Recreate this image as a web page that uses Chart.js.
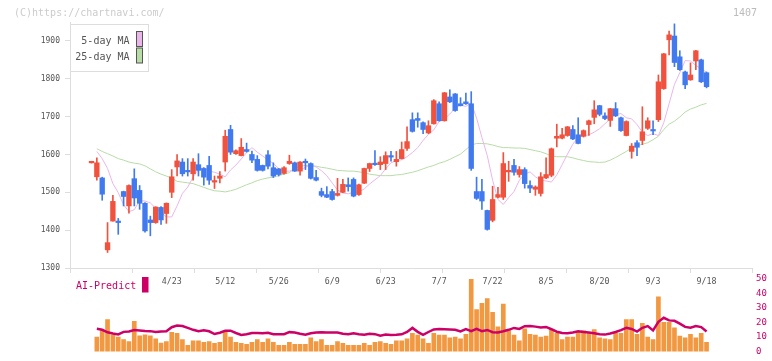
<!DOCTYPE html>
<html>
<head>
<meta charset="utf-8">
<script src="https://cdn.jsdelivr.net/npm/chart.js@4.4.1/dist/chart.umd.min.js"></script>
<style>
  html,body{margin:0;padding:0;background:#fff;}
  #wrap{position:relative;width:772px;height:361px;}
  #wrap canvas{position:absolute;left:0;top:0;}
</style>
</head>
<body>
<div id="wrap">
  <canvas id="cPrice" width="772" height="361"></canvas>
  <canvas id="cVol" width="772" height="361"></canvas>
</div>
<script>

//-------- data (2025, daily) --------
var dates = ["4/2","4/3","4/4","4/7","4/8","4/9","4/10","4/11","4/14","4/15","4/16","4/17","4/18","4/21","4/22","4/23","4/24","4/25","4/28","4/30",
  "5/1","5/2","5/7","5/8","5/9","5/12","5/13","5/14","5/15","5/16","5/19","5/20","5/21","5/22","5/23","5/26","5/27","5/28","5/29","5/30",
  "6/2","6/3","6/4","6/5","6/6","6/9","6/10","6/11","6/12","6/13","6/16","6/17","6/18","6/19","6/20","6/23","6/24","6/25","6/26","6/27","6/30",
  "7/1","7/2","7/3","7/4","7/7","7/8","7/9","7/10","7/11","7/14","7/15","7/16","7/17","7/18","7/22","7/23","7/24","7/25","7/28","7/29","7/30","7/31",
  "8/1","8/4","8/5","8/6","8/7","8/8","8/12","8/13","8/14","8/15","8/18","8/19","8/20","8/21","8/22","8/25","8/26","8/27","8/28","8/29",
  "9/1","9/2","9/3","9/4","9/5","9/8","9/9","9/10","9/11","9/12","9/16","9/17","9/18"];

var tickDates = ["4/23","5/12","5/26","6/9","6/23","7/7","7/22","8/5","8/20","9/3","9/18"];
var priceTicks = [1300,1400,1500,1600,1700,1800,1900];
var volTicks = [0,10,20,30,40,50];

var opens = [1578,1541,1538,1348,1424,1423,1502,1464,1536,1505,
  1471,1427,1420,1460,1444,1500,1567,1580,1557,1549,
  1573,1563,1571,1527,1537,1580,1666,1602,1597,1613,
  1600,1587,1571,1599,1565,1562,1550,1576,1578,1556,
  1582,1576,1539,1502,1494,1502,1492,1500,1520,1534,
  1494,1524,1563,1576,1573,1576,1597,1581,1589,1616,
  1692,1695,1684,1657,1681,1734,1689,1752,1760,1734,
  1739,1734,1502,1502,1452,1426,1487,1487,1554,1571,
  1547,1560,1518,1508,1497,1538,1545,1643,1643,1650,
  1666,1652,1648,1679,1698,1729,1702,1690,1721,1697,
  1650,1608,1631,1637,1669,1666,1692,1774,1903,1913,
  1858,1818,1797,1847,1850,1816];

var highs = [1582,1591,1540,1420,1492,1431,1503,1520,1562,1518,
  1473,1437,1462,1462,1472,1560,1600,1589,1589,1589,
  1602,1565,1595,1543,1555,1664,1677,1612,1642,1630,
  1609,1597,1572,1610,1578,1563,1568,1598,1580,1581,
  1588,1578,1558,1511,1515,1508,1537,1534,1538,1538,
  1522,1564,1577,1610,1594,1607,1608,1608,1633,1673,
  1710,1710,1686,1689,1745,1739,1764,1771,1761,1750,
  1762,1766,1540,1534,1453,1516,1513,1605,1582,1587,
  1568,1565,1530,1517,1552,1591,1617,1680,1669,1674,
  1676,1697,1665,1691,1742,1730,1710,1722,1737,1699,
  1689,1629,1637,1726,1697,1689,1810,1867,1926,1945,
  1874,1820,1842,1875,1852,1818];

var lows = [1577,1532,1479,1341,1424,1389,1464,1445,1464,1455,
  1395,1385,1418,1415,1418,1486,1543,1543,1543,1532,
  1543,1519,1521,1510,1525,1556,1600,1600,1596,1606,
  1578,1556,1556,1562,1539,1543,1548,1574,1555,1545,
  1560,1535,1530,1488,1486,1479,1490,1499,1503,1488,
  1492,1523,1555,1571,1560,1560,1582,1569,1588,1611,
  1659,1672,1655,1655,1680,1688,1688,1737,1714,1728,
  1732,1558,1481,1455,1400,1422,1485,1481,1529,1545,
  1540,1511,1499,1492,1490,1536,1541,1620,1641,1648,
  1639,1628,1646,1650,1681,1702,1692,1674,1700,1661,
  1649,1590,1597,1626,1666,1652,1687,1772,1863,1832,
  1822,1774,1796,1824,1790,1776];

var closes = [1581,1578,1495,1367,1476,1420,1489,1518,1485,1471,
  1398,1420,1461,1427,1471,1541,1583,1549,1554,1580,
  1558,1540,1532,1531,1543,1648,1606,1610,1619,1608,
  1585,1558,1558,1569,1543,1547,1565,1582,1556,1580,
  1578,1537,1532,1492,1487,1481,1497,1521,1515,1490,
  1520,1563,1576,1573,1580,1597,1593,1587,1613,1634,
  1661,1690,1666,1676,1742,1689,1763,1739,1716,1729,
  1734,1563,1484,1477,1402,1481,1494,1576,1558,1553,
  1560,1523,1511,1514,1541,1547,1615,1648,1652,1673,
  1641,1629,1663,1689,1718,1706,1695,1721,1702,1663,
  1687,1622,1619,1660,1689,1662,1792,1866,1916,1843,
  1824,1784,1810,1874,1792,1779];

// moving averages as drawn on the chart (one slot to the right of the candle)
var ma5 = [null,1608,1589,1563,1523,1499,1467,1449,1454,1478,
  1477,1472,1458,1447,1435,1435,1464,1497,1514,1540,
  1561,1565,1556,1553,1548,1541,1559,1572,1588,1605,
  1618,1606,1596,1586,1576,1563,1555,1556,1561,1559,
  1566,1572,1567,1557,1544,1525,1506,1498,1496,1500,
  1501,1509,1522,1533,1544,1562,1578,1584,1586,1594,
  1605,1618,1637,1653,1665,1687,1693,1707,1722,1730,
  1727,1736,1696,1645,1597,1532,1481,1468,1486,1502,
  1532,1548,1554,1541,1532,1530,1527,1546,1573,1601,
  1627,1646,1649,1652,1659,1668,1681,1694,1706,1708,
  1697,1694,1679,1659,1650,1655,1650,1684,1734,1785,
  1816,1848,1847,1835,1827,1817];

var ma25 = [null,1615,1608,1602,1596,1589,1585,1580,1577,1575,
  1570,1562,1554,1548,1543,1538,1529,1527,1525,1523,
  1518,1513,1508,1504,1503,1501,1504,1508,1514,1520,
  1525,1531,1535,1538,1540,1544,1548,1552,1563,1569,
  1571,1571,1569,1566,1564,1561,1558,1557,1556,1556,
  1554,1552,1548,1546,1544,1544,1544,1546,1547,1550,
  1553,1557,1562,1567,1571,1577,1581,1587,1594,1601,
  1613,1625,1629,1629,1628,1625,1621,1618,1618,1617,
  1617,1616,1613,1610,1607,1602,1596,1594,1594,1594,
  1591,1587,1584,1581,1580,1579,1580,1585,1592,1600,
  1608,1617,1623,1627,1631,1639,1648,1666,1680,1688,
  1699,1712,1720,1725,1731,1735];

var volume = [null,10.0,14.5,22.0,11.5,10.0,8.2,6.9,20.8,10.9,
  11.5,10.9,8.8,5.9,6.9,13.2,12.6,8.2,4.4,7.5,
  7.5,6.3,6.9,5.7,6.3,13.8,10.0,6.3,5.7,5.0,
  6.3,8.2,6.3,8.8,6.3,4.4,4.4,6.3,5.0,5.0,
  5.0,9.4,6.9,8.2,4.4,4.4,6.9,5.7,4.4,4.4,
  4.4,5.7,4.4,6.3,6.9,5.7,5.0,7.5,7.5,8.8,
  12.6,11.3,8.8,5.7,12.6,11.3,11.3,9.4,10.0,8.8,
  11.9,50.0,28.9,33.3,36.5,27.0,17.0,32.7,14.5,11.3,
  7.5,15.7,11.9,11.3,10.0,10.7,15.1,12.6,8.2,10.0,
  10.0,13.8,14.5,12.6,15.1,9.4,8.8,8.2,12.6,12.6,
  22.0,22.0,11.9,19.5,10.0,8.2,37.7,20.1,20.1,16.4,
  10.7,9.4,11.9,9.4,12.6,6.3];

var aiPredict = [null,15.7,15.0,13.3,12.5,11.8,13.6,13.9,14.8,14.6,
  14.2,14.1,13.5,13.9,14.0,16.8,17.9,17.6,16.3,15.0,
  14.0,14.7,14.0,12.1,13.0,14.3,14.4,12.8,11.5,11.9,
  12.8,12.8,12.6,12.9,11.9,11.9,12.0,13.4,13.1,12.3,
  11.6,12.6,13.1,13.3,13.2,13.1,13.2,12.3,12.0,12.6,
  12.0,11.6,12.3,12.0,10.9,11.7,11.5,11.6,11.9,13.5,
  16.3,13.6,11.5,13.5,15.3,15.6,15.4,15.2,15.0,13.9,
  15.5,14.1,15.7,14.1,14.9,13.4,13.2,14.0,15.0,16.3,
  15.6,17.5,17.6,17.2,16.6,17.0,15.4,13.7,12.8,12.6,
  13.1,14.0,13.5,13.1,12.6,12.0,11.7,12.5,13.5,14.8,
  16.4,15.6,13.8,16.4,17.6,14.6,20.5,23.3,21.5,21.2,
  19.3,17.0,16.5,17.6,16.9,13.9];

//-------- styles --------
var MONO = '"DejaVu Sans Mono", "Liberation Mono", monospace';
var RED = 'rgb(240,82,62)';
var BLUE = 'rgb(64,122,238)';
var PINK = 'rgb(234,182,234)';
var GREEN = 'rgb(184,220,166)';
var ORANGE = 'rgb(242,152,64)';
var MAGENTA = '#cc0066';
var AXIS = '#dddddd';
var X_MIN = -4.02, X_MAX = 123.5;

function points(arr){
  return arr.map(function(v,i){ return {x:i, y:v}; });
}

var wickData = dates.map(function(d,i){ return {x:i, y:[lows[i], highs[i]]}; });
var bodyData = dates.map(function(d,i){
  return {x:i, y:[Math.min(opens[i],closes[i]), Math.max(opens[i],closes[i])]};
});
function candleColor(c){
  var i = c.dataIndex;
  return closes[i] >= opens[i] ? RED : BLUE;
}

//-------- plugins: legend box and corner texts --------
var priceDeco = {
  id:'priceDeco',
  afterDraw:function(chart){
    var ctx = chart.ctx;
    ctx.save();
    ctx.font = '10px ' + MONO;
    ctx.textBaseline = 'middle';
    ctx.fillStyle = '#cccccc';
    ctx.textAlign = 'left';
    ctx.fillText('(C)https://chartnavi.com/', 14, 13);
    ctx.fillStyle = '#bbbbbb';
    ctx.textAlign = 'right';
    ctx.fillText('1407', 757, 13);

    // legend
    ctx.fillStyle = '#fff';
    ctx.fillRect(70.5, 24.5, 78, 47);
    ctx.strokeStyle = AXIS;
    ctx.lineWidth = 1;
    ctx.strokeRect(70.5, 24.5, 78, 47);
    var items = [chart.data.datasets[0], chart.data.datasets[1]];
    items.forEach(function(ds,k){
      var yc = 41 + k*16.5;
      ctx.fillStyle = '#555';
      ctx.textAlign = 'right';
      ctx.fillText(ds.label, 129.5, yc);
      ctx.fillStyle = ds.borderColor;
      ctx.fillRect(136.5, yc-9.5, 6, 15);
      ctx.strokeStyle = '#555';
      ctx.strokeRect(136.5, yc-9.5, 6, 15);
    });
    ctx.restore();
  }
};

var volDeco = {
  id:'volDeco',
  afterDraw:function(chart){
    var ctx = chart.ctx;
    var ds = chart.data.datasets[0];
    ctx.save();
    ctx.font = '10px ' + MONO;
    ctx.textBaseline = 'middle';
    ctx.textAlign = 'left';
    ctx.fillStyle = ds.borderColor;
    ctx.fillText(ds.label, 76, 286);
    ctx.fillRect(142, 277, 6.5, 15.5);
    ctx.restore();
  }
};

//-------- price chart --------
var chartPrice = new Chart(document.getElementById('cPrice'), {
  type:'bar',
  data:{
    datasets:[
      {
        type:'line', label:'5-day MA', data:points(ma5),
        borderColor:PINK, borderWidth:1, pointRadius:0, order:3,
      },
      {
        type:'line', label:'25-day MA', data:points(ma25),
        borderColor:GREEN, borderWidth:1, pointRadius:0, order:3,
      },
      {
        label:'wick', data:wickData, grouped:false, barThickness:1,
        backgroundColor:candleColor, order:2,
      },
      {
        label:'body', data:bodyData, grouped:false, barThickness:4.7, minBarLength:1.5,
        backgroundColor:candleColor, order:1,
      },
    ]
  },
  options:{
    responsive:false,
    animation:false,
    devicePixelRatio:1,
    events:[],
    layout:{padding:{left:0, right:20, top:22, bottom:0}},
    plugins:{ legend:{display:false}, tooltip:{enabled:false} },
    scales:{
      x:{
        type:'linear', min:X_MIN, max:X_MAX, offset:false, weight:1,
        grid:{display:false, drawTicks:false, offset:false},
        border:{display:false},
        afterBuildTicks:function(s){
          s.ticks = tickDates.map(function(d){ return {value:dates.indexOf(d)}; });
        },
        ticks:{
          autoSkip:false, maxRotation:0, padding:4,
          color:'#555', font:{family:MONO, size:8.3},
          callback:function(v){ return dates[v]; }
        },
        afterFit:function(s){ s.height = 88; }
      },
      xt:{
        type:'linear', position:'bottom', min:0, max:11, offset:false, weight:0,
        ticks:{display:false, stepSize:1},
        grid:{drawOnChartArea:false, drawTicks:true, tickLength:5, color:AXIS, offset:false},
        border:{display:true, color:AXIS},
        afterFit:function(s){ s.height = 5; }
      },
      y:{
        type:'linear', min:1300, max:1950,
        afterBuildTicks:function(s){
          s.ticks = priceTicks.map(function(v){ return {value:v}; });
        },
        ticks:{ padding:5, color:'#555', font:{family:MONO, size:8},
          callback:function(v){ return String(v); } },
        grid:{drawOnChartArea:false, drawTicks:true, tickLength:5, color:AXIS},
        border:{display:true, color:AXIS},
        afterFit:function(s){ s.width = 70; }
      }
    }
  },
  plugins:[priceDeco]
});

//-------- volume / AI-Predict chart --------
var chartVol = new Chart(document.getElementById('cVol'), {
  type:'bar',
  data:{
    datasets:[
      {
        type:'line', label:'AI-Predict', data:points(aiPredict),
        borderColor:MAGENTA, borderWidth:2.5, pointRadius:0, order:1,
      },
      {
        label:'volume', data:points(volume), barThickness:4,
        backgroundColor:ORANGE, order:2,
      },
    ]
  },
  options:{
    responsive:false,
    animation:false,
    devicePixelRatio:1,
    events:[],
    layout:{padding:{left:70, right:0, top:279, bottom:2}},
    plugins:{ legend:{display:false}, tooltip:{enabled:false} },
    scales:{
      x:{ type:'linear', min:X_MIN, max:X_MAX, offset:false, display:false,
          grid:{offset:false} },
      y:{
        type:'linear', position:'right', min:0, max:50,
        afterBuildTicks:function(s){
          s.ticks = volTicks.map(function(v){ return {value:v}; });
        },
        ticks:{ padding:4, color:MAGENTA, font:{family:MONO, size:9},
          callback:function(v){ return String(v); } },
        grid:{display:false, drawTicks:false},
        border:{display:false},
        afterFit:function(s){ s.width = 20; }
      }
    }
  },
  plugins:[volDeco]
});

</script>
</body>
</html>
